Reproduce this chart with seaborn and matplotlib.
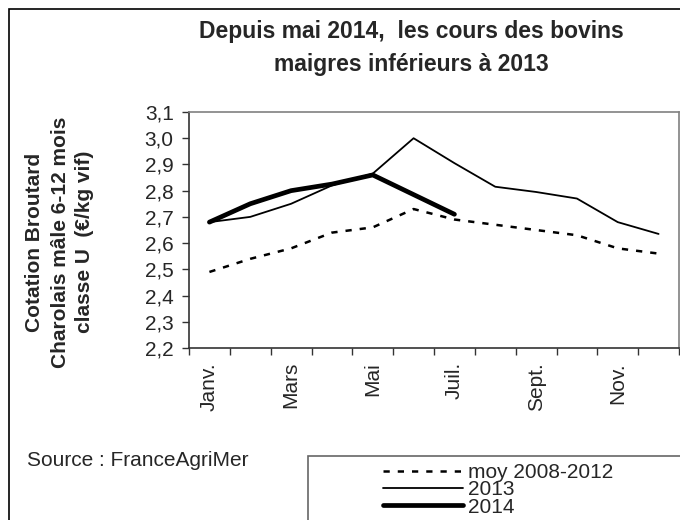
import numpy as np
import pandas as pd
import seaborn as sns
import matplotlib.pyplot as plt
from matplotlib.patches import Rectangle
from matplotlib.ticker import FuncFormatter, FixedLocator

sns.set_style('white')
plt.rcParams['font.family'] = ['Liberation Sans', 'DejaVu Sans']

months = ["Janv.", "Févr.", "Mars", "Avr.", "Mai", "Juin",
          "Juil.", "Août", "Sept.", "Oct.", "Nov.", "Déc."]
moy_2008_2012 = [2.49, 2.54, 2.58, 2.64, 2.66, 2.73, 2.69, 2.67, 2.65, 2.63, 2.58, 2.56]
cours_2013 = [2.68, 2.70, 2.75, 2.82, 2.865, 3.00, 2.905, 2.815, 2.795, 2.77, 2.68, 2.635]
cours_2014 = [2.68, 2.75, 2.80, 2.825, 2.86, 2.785, 2.71]
shown_labels = ["Janv.", "Mars", "Mai", "Juil.", "Sept.", "Nov."]

df = pd.DataFrame({"mois": months, "pos": range(len(months)),
                   "moy": moy_2008_2012, "y2013": cours_2013})
df14 = pd.DataFrame({"pos": range(len(cours_2014)), "y2014": cours_2014})

fig = plt.figure(figsize=(6.8, 5.2), dpi=100)
ax = fig.add_axes([189/680, 1-348/520, 490/680, 236/520])

sns.lineplot(data=df, x="pos", y="moy", ax=ax, color="black", lw=1.8,
             label="moy 2008-2012", linestyle=(0, (2.5, 3.2)))
sns.lineplot(data=df, x="pos", y="y2013", ax=ax, color="black", lw=1.3, label="2013")
sns.lineplot(data=df14, x="pos", y="y2014", ax=ax, color="black", lw=3.4, label="2014")

ax.set_xlim(-0.5, len(months) - 0.5)
ax.set_ylim(2.2, 3.1)
ax.set_yticks(np.arange(2.2, 3.11, 0.1))
ax.yaxis.set_major_formatter(FuncFormatter(lambda v, p: f"{v:.1f}".replace(".", ",")))
ax.tick_params(axis='y', direction='out', length=5, width=1, pad=6, labelsize=15,
               left=True, color='#333333')

ax.set_xticks([months.index(m) for m in shown_labels])
ax.set_xticklabels(shown_labels, rotation=90, fontsize=15)
ax.xaxis.set_minor_locator(FixedLocator(np.arange(-0.5, len(months), 1)))
ax.tick_params(axis='x', which='major', length=0, pad=10)
ax.tick_params(axis='x', which='minor', direction='out', length=5, width=1,
               bottom=True, color='#333333')

for s in ['left', 'bottom']:
    ax.spines[s].set_color('#333333')
    ax.spines[s].set_linewidth(1.2)
for s in ['top', 'right']:
    ax.spines[s].set_color('#808080')
    ax.spines[s].set_linewidth(1.2)

ax.set_xlabel("")
ax.set_ylabel("Cotation Broutard\nCharolais mâle 6-12 mois\nclasse U  (€/kg vif)",
              fontsize=15, fontweight='bold', linespacing=1.4, va='center')
ax.yaxis.set_label_coords((60 - 189) / 490, (348 - 242) / 236)

fig.text(411/680, 1-48/520, "Depuis mai 2014,  les cours des bovins\nmaigres inférieurs à 2013",
         ha='center', va='center', fontsize=16.5, fontweight='bold', linespacing=1.55)
fig.text(27/680, 1-460/520, "Source : FranceAgriMer", ha='left', va='center', fontsize=15)

# outer frame and legend box (both run past the image edges)
fig.patches.append(Rectangle((9/680, -0.1), 1.2, 1.1 - 9/520, transform=fig.transFigure,
                             fill=False, edgecolor='black', lw=1.2, figure=fig))
fig.patches.append(Rectangle((308/680, -0.1), 1.0, 0.1 + 1 - 456/520, transform=fig.transFigure,
                             fill=False, edgecolor='#666666', lw=1.2, figure=fig))

leg = ax.legend(loc='upper left', bbox_to_anchor=(383/680, 1-463/520),
                bbox_transform=fig.transFigure, frameon=False, fontsize=15,
                handlelength=3.85, handletextpad=0.25, labelspacing=-0.08,
                borderpad=0, borderaxespad=0)

fig.savefig("out.png", dpi=100)
